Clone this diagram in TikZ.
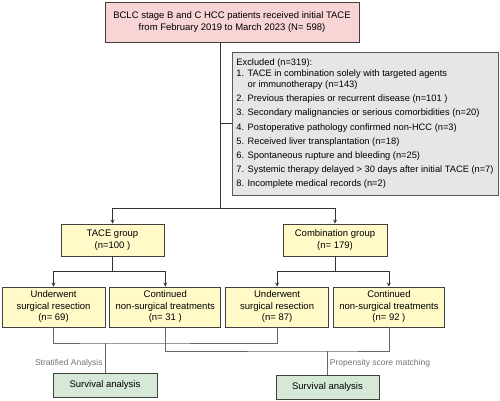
\documentclass[tikz,border=0pt]{standalone}
\usepackage{fontspec}
\setmainfont{Liberation Sans}
\usetikzlibrary{positioning}

\definecolor{pinkfill}{RGB}{249,212,212}
\definecolor{greyfill}{RGB}{230,230,230}
\definecolor{yellowfill}{RGB}{255,250,200}
\definecolor{greenfill}{RGB}{214,232,214}
\definecolor{exclline}{RGB}{80,95,80}

\begin{document}
\begin{tikzpicture}[x=1pt,y=-1pt,
    box/.style={draw=black!75, line width=0.8pt, align=center, inner sep=0pt,
      font=\fontsize{9.5}{11.5}\selectfont},
    grp/.style={box, fill=yellowfill, minimum width=103pt, minimum height=32pt},
    sub/.style={box, fill=yellowfill, minimum height=40pt},
    surv/.style={box, fill=greenfill, minimum width=104pt, minimum height=24pt},
    conn/.style={draw=black!80, line width=0.8pt},
    link/.style={draw=black!60, line width=0.8pt},
    note/.style={text=black!55, font=\fontsize{8.5}{10}\selectfont, inner sep=2pt}]

  \useasboundingbox (0,0) rectangle (500,401);

  \node (top) [box, fill=pinkfill, minimum width=254pt, minimum height=40pt]
    at (232,22) {BCLC stage B and C HCC patients received initial TACE\\
      from February 2019 to March 2023 (N= 598)};
  \node (excl) [box, draw=exclline, fill=greyfill, align=left,
    minimum width=266pt, minimum height=143pt,
    font=\fontsize{9.3}{11.2}\selectfont] at (365,123.5)
    {Excluded (n=319):\\
     1. TACE in combination solely with targeted agents\\
     \phantom{1. }or immunotherapy (n=143)\\[3pt]
     2. Previous therapies or recurrent disease (n=101 )\\[3pt]
     3. Secondary malignancies or serious comorbidities (n=20)\\[3pt]
     4. Postoperative pathology confirmed non-HCC (n=3)\\[3pt]
     5. Received liver transplantation (n=18)\\[3pt]
     6. Spontaneous rupture and bleeding (n=25)\\[3pt]
     7. Systemic therapy delayed > 30 days after initial TACE (n=7)\\[3pt]
     8. Incomplete medical records (n=2)};

  \node (tg) [grp] at (112.5,240) {TACE group\\(n=100 )};
  \node (cg) [grp, minimum width=104pt] at (335,240) {Combination group\\(n= 179)};

  \node (u1) [sub, minimum width=103pt] at (53.5,307)
    {Underwent\\surgical resection\\(n= 69)};
  \node (c1) [sub, minimum width=111pt, right=4pt of u1]
    {Continued\\non-surgical treatments\\(n= 31 )};
  \node (u2) [sub, minimum width=103pt, right=4pt of c1]
    {Underwent\\surgical resection\\(n= 87)};
  \node (c2) [sub, minimum width=111pt, right=4pt of u2]
    {Continued\\non-surgical treatments\\(n= 92 )};

  \node (s1) [surv] at (105,385) {Survival analysis};
  \node (s2) [surv, minimum width=103pt] at (327.5,387) {Survival analysis};

  \coordinate (split) at (220,208);
  \coordinate (ts) at (112.5,271);
  \coordinate (cs) at (335,271);
  \coordinate (m1) at (105,343);
  \coordinate (m2) at (327.5,351);

  \path[conn] (top.south -| split) -- (split);
  \path[conn] (split |- excl.west) -- (excl.west);
  \path[conn, -stealth] (split) -| (tg);
  \path[conn, -stealth] (split) -| (cg);
  \path[conn] (tg) -- (ts);
  \path[conn, -stealth] (ts) -| (u1);
  \path[conn, -stealth] (ts) -| (c1);
  \path[conn] (cg) -- (cs);
  \path[conn, -stealth] (cs) -| (u2);
  \path[conn, -stealth] (cs) -| (c2);

  \path[link] (u1) |- (m1) -| (u2);
  \path[link] (c1) |- (m2) -| (c2);
  \path[link] (m1) -- node[note, left, pos=0.7] {Stratified Analysis} (s1);
  \path[link] (m2) -- node[note, right, pos=0.54] {Propensity score matching} (s2);

\end{tikzpicture}
\end{document}
